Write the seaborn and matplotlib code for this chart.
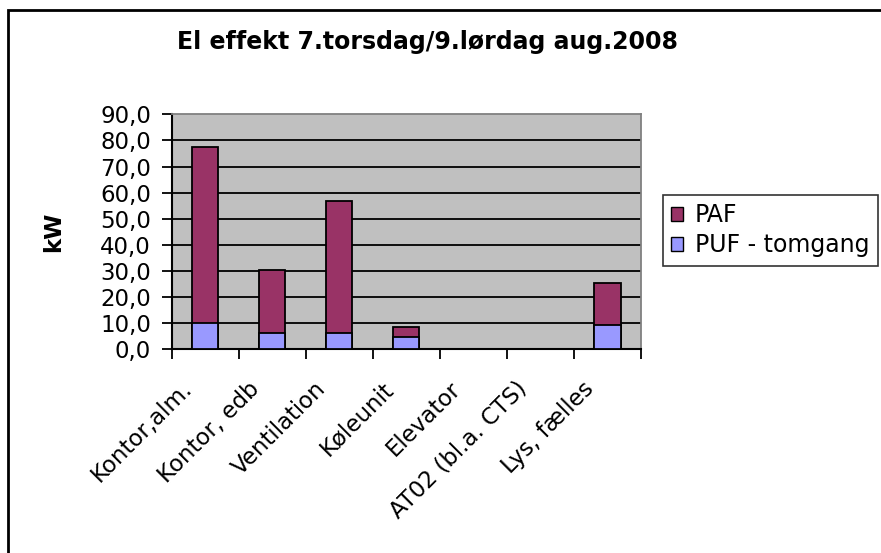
import matplotlib
matplotlib.use("Agg")
import matplotlib.pyplot as plt
import seaborn as sns
import pandas as pd
import numpy as np
from matplotlib.patches import Patch, Rectangle

# data
categories = ["Kontor,alm.", "Kontor, edb", "Ventilation", "Køleunit",
              "Elevator", "AT02 (bl.a. CTS)", "Lys, fælles"]
puf_tomgang = [10.2, 6.2, 6.2, 4.6, 0.0, 0.0, 9.3]
paf = [67.2, 24.1, 50.5, 4.1, 0.0, 0.0, 16.1]
y_ticks = [0, 10, 20, 30, 40, 50, 60, 70, 80, 90]

PAF_COLOR = "#993366"
PUF_COLOR = "#9999FF"

sns.set_theme(style="white", rc={"text.color": "black",
                                 "axes.labelcolor": "black",
                                 "xtick.color": "black",
                                 "ytick.color": "black"})
plt.rcParams["font.family"] = ["DejaVu Sans"]

df = pd.DataFrame({"kategori": categories, "PUF": puf_tomgang, "PAF": paf})
df["total"] = df["PUF"] + df["PAF"]

fig = plt.figure(figsize=(8.81, 5.53), dpi=100)
ax = fig.add_axes([0.195, 0.3684, 0.5326, 0.4249])
ax.set_facecolor("#C0C0C0")

# stacked bars: total first (PAF colour), then PUF on top of it
sns.barplot(data=df, x="kategori", y="total", color=PAF_COLOR, width=0.39,
            edgecolor="black", linewidth=1.3, saturation=1, ax=ax, zorder=3)
sns.barplot(data=df, x="kategori", y="PUF", color=PUF_COLOR, width=0.39,
            edgecolor="black", linewidth=1.3, saturation=1, ax=ax, zorder=4)
# hide zero-height bars outlines
for p in ax.patches:
    if p.get_height() == 0:
        p.set_visible(False)

ax.set_ylim(0, 90)
ax.set_xlim(-0.5, len(categories) - 0.5)
ax.set_yticks(y_ticks)
ax.set_yticklabels([f"{v:.1f}".replace(".", ",") for v in y_ticks],
                   fontsize=16.5)
for v in y_ticks[1:-1]:
    ax.axhline(v, color="black", linewidth=1.3, zorder=1)

# Excel puts the rotated labels a bit left of the category centre
ax.set_xticks(np.arange(len(categories)) - 0.37)
ax.set_xticklabels(categories, rotation=45, ha="right", rotation_mode="anchor",
                   fontsize=16.5)
ax.set_xticks(np.arange(-0.5, len(categories)), minor=True)
ax.tick_params(axis="x", which="major", length=0, pad=20)
ax.tick_params(axis="x", which="minor", length=7, width=1.3, color="black",
               direction="out", bottom=True)
ax.tick_params(axis="y", length=7, width=1.3, color="black", direction="out",
               left=True, pad=8)

ax.set_xlabel("")
ax.set_ylabel("kW", fontsize=16.5, fontweight="bold")
ax.yaxis.set_label_coords(-0.228, 0.5)

for side in ["left", "bottom"]:
    ax.spines[side].set_color("black")
    ax.spines[side].set_linewidth(1.5)
for side in ["top", "right"]:
    ax.spines[side].set_color("#808080")
    ax.spines[side].set_linewidth(1.3)

fig.text(0.485, 0.924, "El effekt 7.torsdag/9.lørdag aug.2008", ha="center",
         va="center", fontsize=17, fontweight="bold")

handles = [Patch(facecolor=PAF_COLOR, edgecolor="black", label="PAF"),
           Patch(facecolor=PUF_COLOR, edgecolor="black", label="PUF - tomgang")]
leg = fig.legend(handles=handles, loc="upper left",
                 bbox_to_anchor=(0.7526, 0.647), fontsize=17, frameon=True,
                 fancybox=False, handlelength=0.5, handleheight=0.5,
                 handletextpad=0.5, borderpad=0.35, labelspacing=0.25,
                 borderaxespad=0)
leg.get_frame().set_edgecolor("black")
leg.get_frame().set_linewidth(1.2)

# outer chart border (cut off at right/bottom like the reference)
fig.patches.append(Rectangle((8 / 881, -0.05), 1.1, 1 - 10 / 553 + 0.05,
                             transform=fig.transFigure, fill=False,
                             edgecolor="black", linewidth=2, clip_on=False))

fig.savefig("out.png", dpi=100)
